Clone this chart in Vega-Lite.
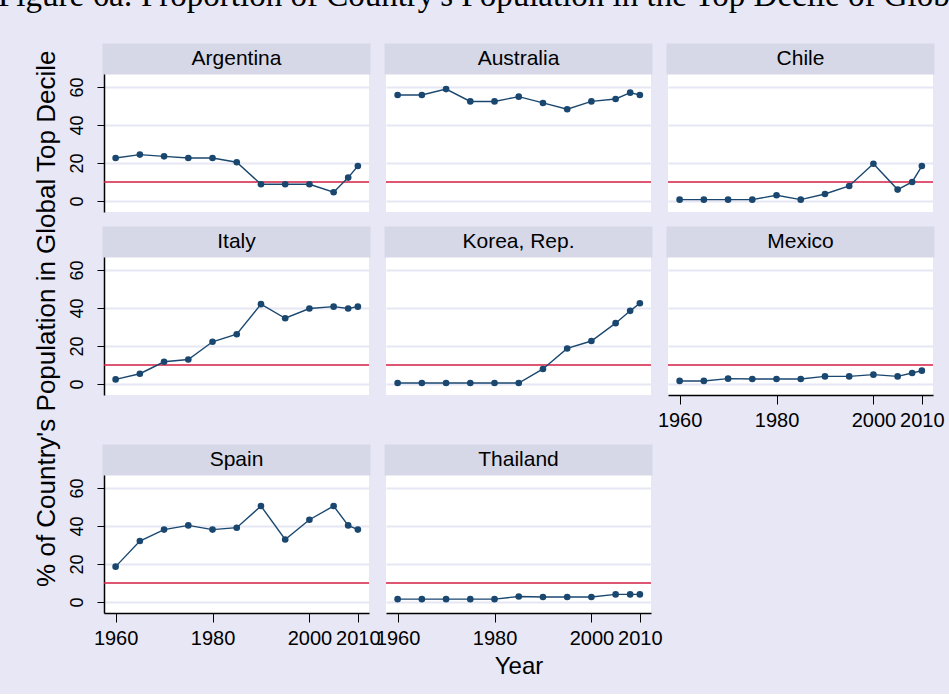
{
  "$schema": "https://vega.github.io/schema/vega-lite/v6.json",
  "background": "#E7E7F6",
  "padding": {"left": -3, "top": -21, "right": -26, "bottom": 16},
  "title": {"text": "Figure 6a: Proportion of Country's Population in the Top Decile of Global", "anchor": "start", "font": "Liberation Serif", "fontSize": 33, "fontWeight": "normal", "color": "#000000", "offset": 31, "dx": -36},
  "config": {"view": {"stroke": null, "fill": "#FFFFFF"}, "axis": {"labelFont": "Liberation Sans", "titleFont": "Liberation Sans"}},
  "datasets": {
    "d": [
      {"country": "Argentina", "year": 1960, "pct": 22.6}, {"country": "Argentina", "year": 1965, "pct": 24.4}, {"country": "Argentina", "year": 1970, "pct": 23.5}, {"country": "Argentina", "year": 1975, "pct": 22.6}, {"country": "Argentina", "year": 1980, "pct": 22.6}, {"country": "Argentina", "year": 1985, "pct": 20.4}, {"country": "Argentina", "year": 1990, "pct": 8.8}, {"country": "Argentina", "year": 1995, "pct": 8.8}, {"country": "Argentina", "year": 2000, "pct": 8.8}, {"country": "Argentina", "year": 2005, "pct": 4.6}, {"country": "Argentina", "year": 2008, "pct": 12.3}, {"country": "Argentina", "year": 2010, "pct": 18.4},
      {"country": "Australia", "year": 1960, "pct": 55.8}, {"country": "Australia", "year": 1965, "pct": 55.8}, {"country": "Australia", "year": 1970, "pct": 58.9}, {"country": "Australia", "year": 1975, "pct": 52.4}, {"country": "Australia", "year": 1980, "pct": 52.4}, {"country": "Australia", "year": 1985, "pct": 54.9}, {"country": "Australia", "year": 1990, "pct": 51.6}, {"country": "Australia", "year": 1995, "pct": 48.3}, {"country": "Australia", "year": 2000, "pct": 52.4}, {"country": "Australia", "year": 2005, "pct": 53.7}, {"country": "Australia", "year": 2008, "pct": 57.0}, {"country": "Australia", "year": 2010, "pct": 55.8},
      {"country": "Chile", "year": 1960, "pct": 0.7}, {"country": "Chile", "year": 1965, "pct": 0.7}, {"country": "Chile", "year": 1970, "pct": 0.7}, {"country": "Chile", "year": 1975, "pct": 0.7}, {"country": "Chile", "year": 1980, "pct": 3.0}, {"country": "Chile", "year": 1985, "pct": 0.7}, {"country": "Chile", "year": 1990, "pct": 3.7}, {"country": "Chile", "year": 1995, "pct": 7.9}, {"country": "Chile", "year": 2000, "pct": 19.6}, {"country": "Chile", "year": 2005, "pct": 6.0}, {"country": "Chile", "year": 2008, "pct": 10.0}, {"country": "Chile", "year": 2010, "pct": 18.4},
      {"country": "Italy", "year": 1960, "pct": 2.4}, {"country": "Italy", "year": 1965, "pct": 5.4}, {"country": "Italy", "year": 1970, "pct": 11.7}, {"country": "Italy", "year": 1975, "pct": 12.9}, {"country": "Italy", "year": 1980, "pct": 22.2}, {"country": "Italy", "year": 1985, "pct": 26.2}, {"country": "Italy", "year": 1990, "pct": 42.0}, {"country": "Italy", "year": 1995, "pct": 34.6}, {"country": "Italy", "year": 2000, "pct": 39.7}, {"country": "Italy", "year": 2005, "pct": 40.7}, {"country": "Italy", "year": 2008, "pct": 39.7}, {"country": "Italy", "year": 2010, "pct": 40.7},
      {"country": "Korea, Rep.", "year": 1960, "pct": 0.5}, {"country": "Korea, Rep.", "year": 1965, "pct": 0.5}, {"country": "Korea, Rep.", "year": 1970, "pct": 0.5}, {"country": "Korea, Rep.", "year": 1975, "pct": 0.5}, {"country": "Korea, Rep.", "year": 1980, "pct": 0.5}, {"country": "Korea, Rep.", "year": 1985, "pct": 0.5}, {"country": "Korea, Rep.", "year": 1990, "pct": 7.9}, {"country": "Korea, Rep.", "year": 1995, "pct": 18.7}, {"country": "Korea, Rep.", "year": 2000, "pct": 22.6}, {"country": "Korea, Rep.", "year": 2005, "pct": 32.0}, {"country": "Korea, Rep.", "year": 2008, "pct": 38.5}, {"country": "Korea, Rep.", "year": 2010, "pct": 42.5},
      {"country": "Mexico", "year": 1960, "pct": 1.6}, {"country": "Mexico", "year": 1965, "pct": 1.6}, {"country": "Mexico", "year": 1970, "pct": 2.8}, {"country": "Mexico", "year": 1975, "pct": 2.6}, {"country": "Mexico", "year": 1980, "pct": 2.6}, {"country": "Mexico", "year": 1985, "pct": 2.6}, {"country": "Mexico", "year": 1990, "pct": 4.0}, {"country": "Mexico", "year": 1995, "pct": 4.0}, {"country": "Mexico", "year": 2000, "pct": 4.9}, {"country": "Mexico", "year": 2005, "pct": 4.0}, {"country": "Mexico", "year": 2008, "pct": 5.8}, {"country": "Mexico", "year": 2010, "pct": 7.0},
      {"country": "Spain", "year": 1960, "pct": 18.6}, {"country": "Spain", "year": 1965, "pct": 32.1}, {"country": "Spain", "year": 1970, "pct": 38.1}, {"country": "Spain", "year": 1975, "pct": 40.3}, {"country": "Spain", "year": 1980, "pct": 38.1}, {"country": "Spain", "year": 1985, "pct": 39.1}, {"country": "Spain", "year": 1990, "pct": 50.5}, {"country": "Spain", "year": 1995, "pct": 32.9}, {"country": "Spain", "year": 2000, "pct": 43.3}, {"country": "Spain", "year": 2005, "pct": 50.5}, {"country": "Spain", "year": 2008, "pct": 40.3}, {"country": "Spain", "year": 2010, "pct": 38.1},
      {"country": "Thailand", "year": 1960, "pct": 1.5}, {"country": "Thailand", "year": 1965, "pct": 1.5}, {"country": "Thailand", "year": 1970, "pct": 1.5}, {"country": "Thailand", "year": 1975, "pct": 1.5}, {"country": "Thailand", "year": 1980, "pct": 1.5}, {"country": "Thailand", "year": 1985, "pct": 2.9}, {"country": "Thailand", "year": 1990, "pct": 2.6}, {"country": "Thailand", "year": 1995, "pct": 2.6}, {"country": "Thailand", "year": 2000, "pct": 2.6}, {"country": "Thailand", "year": 2005, "pct": 4.0}, {"country": "Thailand", "year": 2008, "pct": 4.0}, {"country": "Thailand", "year": 2010, "pct": 4.0}
    ]
  },
  "vconcat": [
    {
      "title": {"text": "% of Country's Population in Global Top Decile", "orient": "left", "anchor": "middle", "frame": "bounds", "font": "Liberation Sans", "fontSize": 26, "fontWeight": "normal", "color": "#000000", "offset": 8, "dx": 42},
      "columns": 3,
      "align": "each",
      "spacing": {"row": 14, "column": -6},
      "concat": [
        {
          "width": 265, "height": 167,
          "data": {"name": "d"},
          "transform": [{"filter": "datum.country === 'Argentina'"}],
          "layer": [
            {"transform": [{"aggregate": [{"op": "count", "as": "n"}], "groupby": ["country"]}], "mark": {"type": "rect", "color": "#D6D8E8", "stroke": "#D6D8E8", "strokeWidth": 3}, "encoding": {"x": {"value": 0}, "x2": {"value": "width"}, "y": {"datum": 82.1, "type": "quantitative", "scale": {"domain": [-5.8, 82.1], "nice": false, "zero": false}, "axis": {"values": [0, 20, 40, 60], "title": null, "grid": true, "gridColor": "#E6E6F4", "gridWidth": 2, "domain": true, "domainColor": "#000000", "domainWidth": 1.5, "ticks": true, "tickColor": "#000000", "tickSize": 7, "labelAngle": 270, "labelAlign": "center", "labelBaseline": "bottom", "labelFontSize": 18, "labelColor": "#000000", "labelPadding": 11}}, "y2": {"datum": 67.4}}},
            {"transform": [{"aggregate": [{"op": "count", "as": "n"}], "groupby": ["country"]}], "mark": {"type": "text", "font": "Liberation Sans", "fontSize": 21, "color": "#000000", "align": "center", "baseline": "middle"}, "encoding": {"x": {"datum": 1984.95, "type": "quantitative", "scale": {"domain": [1957.6, 2012.3], "nice": false, "zero": false}, "axis": null}, "y": {"datum": 74.75, "type": "quantitative", "axis": {"values": [0, 20, 40, 60], "title": null, "grid": true, "gridColor": "#E6E6F4", "gridWidth": 2, "domain": true, "domainColor": "#000000", "domainWidth": 1.5, "ticks": true, "tickColor": "#000000", "tickSize": 7, "labelAngle": 270, "labelAlign": "center", "labelBaseline": "bottom", "labelFontSize": 18, "labelColor": "#000000", "labelPadding": 11}}, "text": {"field": "country"}}},
            {"transform": [{"aggregate": [{"op": "count", "as": "n"}], "groupby": ["country"]}], "mark": {"type": "rule", "color": "#D41E45", "strokeWidth": 1.6}, "encoding": {"y": {"datum": 10, "type": "quantitative", "axis": {"values": [0, 20, 40, 60], "title": null, "grid": true, "gridColor": "#E6E6F4", "gridWidth": 2, "domain": true, "domainColor": "#000000", "domainWidth": 1.5, "ticks": true, "tickColor": "#000000", "tickSize": 7, "labelAngle": 270, "labelAlign": "center", "labelBaseline": "bottom", "labelFontSize": 18, "labelColor": "#000000", "labelPadding": 11}}}},
            {"mark": {"type": "line", "color": "#1A476F", "strokeWidth": 1.4, "point": {"filled": true, "size": 44, "color": "#1A476F"}}, "encoding": {
              "x": {"field": "year", "type": "quantitative", "scale": {"domain": [1957.6, 2012.3], "nice": false, "zero": false}, "axis": null},
              "y": {"field": "pct", "type": "quantitative", "scale": {"domain": [-5.8, 82.1], "nice": false, "zero": false}, "axis": {"values": [0, 20, 40, 60], "title": null, "grid": true, "gridColor": "#E6E6F4", "gridWidth": 2, "domain": true, "domainColor": "#000000", "domainWidth": 1.5, "ticks": true, "tickColor": "#000000", "tickSize": 7, "labelAngle": 270, "labelAlign": "center", "labelBaseline": "bottom", "labelFontSize": 18, "labelColor": "#000000", "labelPadding": 11}}}}
          ]
        },
        {
          "width": 265, "height": 167,
          "data": {"name": "d"},
          "transform": [{"filter": "datum.country === 'Australia'"}],
          "layer": [
            {"transform": [{"aggregate": [{"op": "count", "as": "n"}], "groupby": ["country"]}], "mark": {"type": "rect", "color": "#D6D8E8", "stroke": "#D6D8E8", "strokeWidth": 3}, "encoding": {"x": {"value": 0}, "x2": {"value": "width"}, "y": {"datum": 82.1, "type": "quantitative", "scale": {"domain": [-5.8, 82.1], "nice": false, "zero": false}, "axis": {"values": [0, 20, 40, 60], "title": null, "grid": true, "gridColor": "#E6E6F4", "gridWidth": 2, "domain": false, "ticks": false, "labels": false}}, "y2": {"datum": 67.4}}},
            {"transform": [{"aggregate": [{"op": "count", "as": "n"}], "groupby": ["country"]}], "mark": {"type": "text", "font": "Liberation Sans", "fontSize": 21, "color": "#000000", "align": "center", "baseline": "middle"}, "encoding": {"x": {"datum": 1984.95, "type": "quantitative", "scale": {"domain": [1957.6, 2012.3], "nice": false, "zero": false}, "axis": null}, "y": {"datum": 74.75, "type": "quantitative", "axis": {"values": [0, 20, 40, 60], "title": null, "grid": true, "gridColor": "#E6E6F4", "gridWidth": 2, "domain": false, "ticks": false, "labels": false}}, "text": {"field": "country"}}},
            {"transform": [{"aggregate": [{"op": "count", "as": "n"}], "groupby": ["country"]}], "mark": {"type": "rule", "color": "#D41E45", "strokeWidth": 1.6}, "encoding": {"y": {"datum": 10, "type": "quantitative", "axis": {"values": [0, 20, 40, 60], "title": null, "grid": true, "gridColor": "#E6E6F4", "gridWidth": 2, "domain": false, "ticks": false, "labels": false}}}},
            {"mark": {"type": "line", "color": "#1A476F", "strokeWidth": 1.4, "point": {"filled": true, "size": 44, "color": "#1A476F"}}, "encoding": {
              "x": {"field": "year", "type": "quantitative", "scale": {"domain": [1957.6, 2012.3], "nice": false, "zero": false}, "axis": null},
              "y": {"field": "pct", "type": "quantitative", "scale": {"domain": [-5.8, 82.1], "nice": false, "zero": false}, "axis": {"values": [0, 20, 40, 60], "title": null, "grid": true, "gridColor": "#E6E6F4", "gridWidth": 2, "domain": false, "ticks": false, "labels": false}}}}
          ]
        },
        {
          "width": 265, "height": 167,
          "data": {"name": "d"},
          "transform": [{"filter": "datum.country === 'Chile'"}],
          "layer": [
            {"transform": [{"aggregate": [{"op": "count", "as": "n"}], "groupby": ["country"]}], "mark": {"type": "rect", "color": "#D6D8E8", "stroke": "#D6D8E8", "strokeWidth": 3}, "encoding": {"x": {"value": 0}, "x2": {"value": "width"}, "y": {"datum": 82.1, "type": "quantitative", "scale": {"domain": [-5.8, 82.1], "nice": false, "zero": false}, "axis": {"values": [0, 20, 40, 60], "title": null, "grid": true, "gridColor": "#E6E6F4", "gridWidth": 2, "domain": false, "ticks": false, "labels": false}}, "y2": {"datum": 67.4}}},
            {"transform": [{"aggregate": [{"op": "count", "as": "n"}], "groupby": ["country"]}], "mark": {"type": "text", "font": "Liberation Sans", "fontSize": 21, "color": "#000000", "align": "center", "baseline": "middle"}, "encoding": {"x": {"datum": 1984.95, "type": "quantitative", "scale": {"domain": [1957.6, 2012.3], "nice": false, "zero": false}, "axis": null}, "y": {"datum": 74.75, "type": "quantitative", "axis": {"values": [0, 20, 40, 60], "title": null, "grid": true, "gridColor": "#E6E6F4", "gridWidth": 2, "domain": false, "ticks": false, "labels": false}}, "text": {"field": "country"}}},
            {"transform": [{"aggregate": [{"op": "count", "as": "n"}], "groupby": ["country"]}], "mark": {"type": "rule", "color": "#D41E45", "strokeWidth": 1.6}, "encoding": {"y": {"datum": 10, "type": "quantitative", "axis": {"values": [0, 20, 40, 60], "title": null, "grid": true, "gridColor": "#E6E6F4", "gridWidth": 2, "domain": false, "ticks": false, "labels": false}}}},
            {"mark": {"type": "line", "color": "#1A476F", "strokeWidth": 1.4, "point": {"filled": true, "size": 44, "color": "#1A476F"}}, "encoding": {
              "x": {"field": "year", "type": "quantitative", "scale": {"domain": [1957.6, 2012.3], "nice": false, "zero": false}, "axis": null},
              "y": {"field": "pct", "type": "quantitative", "scale": {"domain": [-5.8, 82.1], "nice": false, "zero": false}, "axis": {"values": [0, 20, 40, 60], "title": null, "grid": true, "gridColor": "#E6E6F4", "gridWidth": 2, "domain": false, "ticks": false, "labels": false}}}}
          ]
        },
        {
          "width": 265, "height": 167,
          "data": {"name": "d"},
          "transform": [{"filter": "datum.country === 'Italy'"}],
          "layer": [
            {"transform": [{"aggregate": [{"op": "count", "as": "n"}], "groupby": ["country"]}], "mark": {"type": "rect", "color": "#D6D8E8", "stroke": "#D6D8E8", "strokeWidth": 3}, "encoding": {"x": {"value": 0}, "x2": {"value": "width"}, "y": {"datum": 82.1, "type": "quantitative", "scale": {"domain": [-5.8, 82.1], "nice": false, "zero": false}, "axis": {"values": [0, 20, 40, 60], "title": null, "grid": true, "gridColor": "#E6E6F4", "gridWidth": 2, "domain": true, "domainColor": "#000000", "domainWidth": 1.5, "ticks": true, "tickColor": "#000000", "tickSize": 7, "labelAngle": 270, "labelAlign": "center", "labelBaseline": "bottom", "labelFontSize": 18, "labelColor": "#000000", "labelPadding": 11}}, "y2": {"datum": 67.4}}},
            {"transform": [{"aggregate": [{"op": "count", "as": "n"}], "groupby": ["country"]}], "mark": {"type": "text", "font": "Liberation Sans", "fontSize": 21, "color": "#000000", "align": "center", "baseline": "middle"}, "encoding": {"x": {"datum": 1984.95, "type": "quantitative", "scale": {"domain": [1957.6, 2012.3], "nice": false, "zero": false}, "axis": null}, "y": {"datum": 74.75, "type": "quantitative", "axis": {"values": [0, 20, 40, 60], "title": null, "grid": true, "gridColor": "#E6E6F4", "gridWidth": 2, "domain": true, "domainColor": "#000000", "domainWidth": 1.5, "ticks": true, "tickColor": "#000000", "tickSize": 7, "labelAngle": 270, "labelAlign": "center", "labelBaseline": "bottom", "labelFontSize": 18, "labelColor": "#000000", "labelPadding": 11}}, "text": {"field": "country"}}},
            {"transform": [{"aggregate": [{"op": "count", "as": "n"}], "groupby": ["country"]}], "mark": {"type": "rule", "color": "#D41E45", "strokeWidth": 1.6}, "encoding": {"y": {"datum": 10, "type": "quantitative", "axis": {"values": [0, 20, 40, 60], "title": null, "grid": true, "gridColor": "#E6E6F4", "gridWidth": 2, "domain": true, "domainColor": "#000000", "domainWidth": 1.5, "ticks": true, "tickColor": "#000000", "tickSize": 7, "labelAngle": 270, "labelAlign": "center", "labelBaseline": "bottom", "labelFontSize": 18, "labelColor": "#000000", "labelPadding": 11}}}},
            {"mark": {"type": "line", "color": "#1A476F", "strokeWidth": 1.4, "point": {"filled": true, "size": 44, "color": "#1A476F"}}, "encoding": {
              "x": {"field": "year", "type": "quantitative", "scale": {"domain": [1957.6, 2012.3], "nice": false, "zero": false}, "axis": null},
              "y": {"field": "pct", "type": "quantitative", "scale": {"domain": [-5.8, 82.1], "nice": false, "zero": false}, "axis": {"values": [0, 20, 40, 60], "title": null, "grid": true, "gridColor": "#E6E6F4", "gridWidth": 2, "domain": true, "domainColor": "#000000", "domainWidth": 1.5, "ticks": true, "tickColor": "#000000", "tickSize": 7, "labelAngle": 270, "labelAlign": "center", "labelBaseline": "bottom", "labelFontSize": 18, "labelColor": "#000000", "labelPadding": 11}}}}
          ]
        },
        {
          "width": 265, "height": 167,
          "data": {"name": "d"},
          "transform": [{"filter": "datum.country === 'Korea, Rep.'"}],
          "layer": [
            {"transform": [{"aggregate": [{"op": "count", "as": "n"}], "groupby": ["country"]}], "mark": {"type": "rect", "color": "#D6D8E8", "stroke": "#D6D8E8", "strokeWidth": 3}, "encoding": {"x": {"value": 0}, "x2": {"value": "width"}, "y": {"datum": 82.1, "type": "quantitative", "scale": {"domain": [-5.8, 82.1], "nice": false, "zero": false}, "axis": {"values": [0, 20, 40, 60], "title": null, "grid": true, "gridColor": "#E6E6F4", "gridWidth": 2, "domain": false, "ticks": false, "labels": false}}, "y2": {"datum": 67.4}}},
            {"transform": [{"aggregate": [{"op": "count", "as": "n"}], "groupby": ["country"]}], "mark": {"type": "text", "font": "Liberation Sans", "fontSize": 21, "color": "#000000", "align": "center", "baseline": "middle"}, "encoding": {"x": {"datum": 1984.95, "type": "quantitative", "scale": {"domain": [1957.6, 2012.3], "nice": false, "zero": false}, "axis": null}, "y": {"datum": 74.75, "type": "quantitative", "axis": {"values": [0, 20, 40, 60], "title": null, "grid": true, "gridColor": "#E6E6F4", "gridWidth": 2, "domain": false, "ticks": false, "labels": false}}, "text": {"field": "country"}}},
            {"transform": [{"aggregate": [{"op": "count", "as": "n"}], "groupby": ["country"]}], "mark": {"type": "rule", "color": "#D41E45", "strokeWidth": 1.6}, "encoding": {"y": {"datum": 10, "type": "quantitative", "axis": {"values": [0, 20, 40, 60], "title": null, "grid": true, "gridColor": "#E6E6F4", "gridWidth": 2, "domain": false, "ticks": false, "labels": false}}}},
            {"mark": {"type": "line", "color": "#1A476F", "strokeWidth": 1.4, "point": {"filled": true, "size": 44, "color": "#1A476F"}}, "encoding": {
              "x": {"field": "year", "type": "quantitative", "scale": {"domain": [1957.6, 2012.3], "nice": false, "zero": false}, "axis": null},
              "y": {"field": "pct", "type": "quantitative", "scale": {"domain": [-5.8, 82.1], "nice": false, "zero": false}, "axis": {"values": [0, 20, 40, 60], "title": null, "grid": true, "gridColor": "#E6E6F4", "gridWidth": 2, "domain": false, "ticks": false, "labels": false}}}}
          ]
        },
        {
          "width": 265, "height": 167,
          "data": {"name": "d"},
          "transform": [{"filter": "datum.country === 'Mexico'"}],
          "layer": [
            {"transform": [{"aggregate": [{"op": "count", "as": "n"}], "groupby": ["country"]}], "mark": {"type": "rect", "color": "#D6D8E8", "stroke": "#D6D8E8", "strokeWidth": 3}, "encoding": {"x": {"value": 0}, "x2": {"value": "width"}, "y": {"datum": 82.1, "type": "quantitative", "scale": {"domain": [-5.8, 82.1], "nice": false, "zero": false}, "axis": {"values": [0, 20, 40, 60], "title": null, "grid": true, "gridColor": "#E6E6F4", "gridWidth": 2, "domain": false, "ticks": false, "labels": false}}, "y2": {"datum": 67.4}}},
            {"transform": [{"aggregate": [{"op": "count", "as": "n"}], "groupby": ["country"]}], "mark": {"type": "text", "font": "Liberation Sans", "fontSize": 21, "color": "#000000", "align": "center", "baseline": "middle"}, "encoding": {"x": {"datum": 1984.95, "type": "quantitative", "scale": {"domain": [1957.6, 2012.3], "nice": false, "zero": false}, "axis": {"values": [1960, 1980, 2000, 2010], "format": "d", "title": null, "grid": false, "domain": true, "domainColor": "#000000", "domainWidth": 1.5, "ticks": true, "tickColor": "#000000", "tickSize": 9, "labelFontSize": 20, "labelColor": "#000000", "labelPadding": 6, "labelOverlap": false, "labelFlush": false}}, "y": {"datum": 74.75, "type": "quantitative", "axis": {"values": [0, 20, 40, 60], "title": null, "grid": true, "gridColor": "#E6E6F4", "gridWidth": 2, "domain": false, "ticks": false, "labels": false}}, "text": {"field": "country"}}},
            {"transform": [{"aggregate": [{"op": "count", "as": "n"}], "groupby": ["country"]}], "mark": {"type": "rule", "color": "#D41E45", "strokeWidth": 1.6}, "encoding": {"y": {"datum": 10, "type": "quantitative", "axis": {"values": [0, 20, 40, 60], "title": null, "grid": true, "gridColor": "#E6E6F4", "gridWidth": 2, "domain": false, "ticks": false, "labels": false}}}},
            {"mark": {"type": "line", "color": "#1A476F", "strokeWidth": 1.4, "point": {"filled": true, "size": 44, "color": "#1A476F"}}, "encoding": {
              "x": {"field": "year", "type": "quantitative", "scale": {"domain": [1957.6, 2012.3], "nice": false, "zero": false}, "axis": {"values": [1960, 1980, 2000, 2010], "format": "d", "title": null, "grid": false, "domain": true, "domainColor": "#000000", "domainWidth": 1.5, "ticks": true, "tickColor": "#000000", "tickSize": 9, "labelFontSize": 20, "labelColor": "#000000", "labelPadding": 6, "labelOverlap": false, "labelFlush": false}},
              "y": {"field": "pct", "type": "quantitative", "scale": {"domain": [-5.8, 82.1], "nice": false, "zero": false}, "axis": {"values": [0, 20, 40, 60], "title": null, "grid": true, "gridColor": "#E6E6F4", "gridWidth": 2, "domain": false, "ticks": false, "labels": false}}}}
          ]
        },
        {
          "width": 265, "height": 167,
          "data": {"name": "d"},
          "transform": [{"filter": "datum.country === 'Spain'"}],
          "layer": [
            {"transform": [{"aggregate": [{"op": "count", "as": "n"}], "groupby": ["country"]}], "mark": {"type": "rect", "color": "#D6D8E8", "stroke": "#D6D8E8", "strokeWidth": 3}, "encoding": {"x": {"value": 0}, "x2": {"value": "width"}, "y": {"datum": 82.1, "type": "quantitative", "scale": {"domain": [-5.8, 82.1], "nice": false, "zero": false}, "axis": {"values": [0, 20, 40, 60], "title": null, "grid": true, "gridColor": "#E6E6F4", "gridWidth": 2, "domain": true, "domainColor": "#000000", "domainWidth": 1.5, "ticks": true, "tickColor": "#000000", "tickSize": 7, "labelAngle": 270, "labelAlign": "center", "labelBaseline": "bottom", "labelFontSize": 18, "labelColor": "#000000", "labelPadding": 11}}, "y2": {"datum": 67.4}}},
            {"transform": [{"aggregate": [{"op": "count", "as": "n"}], "groupby": ["country"]}], "mark": {"type": "text", "font": "Liberation Sans", "fontSize": 21, "color": "#000000", "align": "center", "baseline": "middle"}, "encoding": {"x": {"datum": 1984.95, "type": "quantitative", "scale": {"domain": [1957.6, 2012.3], "nice": false, "zero": false}, "axis": {"values": [1960, 1980, 2000, 2010], "format": "d", "title": null, "grid": false, "domain": true, "domainColor": "#000000", "domainWidth": 1.5, "ticks": true, "tickColor": "#000000", "tickSize": 9, "labelFontSize": 20, "labelColor": "#000000", "labelPadding": 6, "labelOverlap": false, "labelFlush": false}}, "y": {"datum": 74.75, "type": "quantitative", "axis": {"values": [0, 20, 40, 60], "title": null, "grid": true, "gridColor": "#E6E6F4", "gridWidth": 2, "domain": true, "domainColor": "#000000", "domainWidth": 1.5, "ticks": true, "tickColor": "#000000", "tickSize": 7, "labelAngle": 270, "labelAlign": "center", "labelBaseline": "bottom", "labelFontSize": 18, "labelColor": "#000000", "labelPadding": 11}}, "text": {"field": "country"}}},
            {"transform": [{"aggregate": [{"op": "count", "as": "n"}], "groupby": ["country"]}], "mark": {"type": "rule", "color": "#D41E45", "strokeWidth": 1.6}, "encoding": {"y": {"datum": 10, "type": "quantitative", "axis": {"values": [0, 20, 40, 60], "title": null, "grid": true, "gridColor": "#E6E6F4", "gridWidth": 2, "domain": true, "domainColor": "#000000", "domainWidth": 1.5, "ticks": true, "tickColor": "#000000", "tickSize": 7, "labelAngle": 270, "labelAlign": "center", "labelBaseline": "bottom", "labelFontSize": 18, "labelColor": "#000000", "labelPadding": 11}}}},
            {"mark": {"type": "line", "color": "#1A476F", "strokeWidth": 1.4, "point": {"filled": true, "size": 44, "color": "#1A476F"}}, "encoding": {
              "x": {"field": "year", "type": "quantitative", "scale": {"domain": [1957.6, 2012.3], "nice": false, "zero": false}, "axis": {"values": [1960, 1980, 2000, 2010], "format": "d", "title": null, "grid": false, "domain": true, "domainColor": "#000000", "domainWidth": 1.5, "ticks": true, "tickColor": "#000000", "tickSize": 9, "labelFontSize": 20, "labelColor": "#000000", "labelPadding": 6, "labelOverlap": false, "labelFlush": false}},
              "y": {"field": "pct", "type": "quantitative", "scale": {"domain": [-5.8, 82.1], "nice": false, "zero": false}, "axis": {"values": [0, 20, 40, 60], "title": null, "grid": true, "gridColor": "#E6E6F4", "gridWidth": 2, "domain": true, "domainColor": "#000000", "domainWidth": 1.5, "ticks": true, "tickColor": "#000000", "tickSize": 7, "labelAngle": 270, "labelAlign": "center", "labelBaseline": "bottom", "labelFontSize": 18, "labelColor": "#000000", "labelPadding": 11}}}}
          ]
        },
        {
          "width": 265, "height": 167,
          "data": {"name": "d"},
          "transform": [{"filter": "datum.country === 'Thailand'"}],
          "layer": [
            {"transform": [{"aggregate": [{"op": "count", "as": "n"}], "groupby": ["country"]}], "mark": {"type": "rect", "color": "#D6D8E8", "stroke": "#D6D8E8", "strokeWidth": 3}, "encoding": {"x": {"value": 0}, "x2": {"value": "width"}, "y": {"datum": 82.1, "type": "quantitative", "scale": {"domain": [-5.8, 82.1], "nice": false, "zero": false}, "axis": {"values": [0, 20, 40, 60], "title": null, "grid": true, "gridColor": "#E6E6F4", "gridWidth": 2, "domain": false, "ticks": false, "labels": false}}, "y2": {"datum": 67.4}}},
            {"transform": [{"aggregate": [{"op": "count", "as": "n"}], "groupby": ["country"]}], "mark": {"type": "text", "font": "Liberation Sans", "fontSize": 21, "color": "#000000", "align": "center", "baseline": "middle"}, "encoding": {"x": {"datum": 1984.95, "type": "quantitative", "scale": {"domain": [1957.6, 2012.3], "nice": false, "zero": false}, "axis": {"values": [1960, 1980, 2000, 2010], "format": "d", "title": "Year", "titleFontSize": 24, "titleFontWeight": "normal", "titleColor": "#000000", "titlePadding": 6, "grid": false, "domain": true, "domainColor": "#000000", "domainWidth": 1.5, "ticks": true, "tickColor": "#000000", "tickSize": 9, "labelFontSize": 20, "labelColor": "#000000", "labelPadding": 6, "labelOverlap": false, "labelFlush": false}}, "y": {"datum": 74.75, "type": "quantitative", "axis": {"values": [0, 20, 40, 60], "title": null, "grid": true, "gridColor": "#E6E6F4", "gridWidth": 2, "domain": false, "ticks": false, "labels": false}}, "text": {"field": "country"}}},
            {"transform": [{"aggregate": [{"op": "count", "as": "n"}], "groupby": ["country"]}], "mark": {"type": "rule", "color": "#D41E45", "strokeWidth": 1.6}, "encoding": {"y": {"datum": 10, "type": "quantitative", "axis": {"values": [0, 20, 40, 60], "title": null, "grid": true, "gridColor": "#E6E6F4", "gridWidth": 2, "domain": false, "ticks": false, "labels": false}}}},
            {"mark": {"type": "line", "color": "#1A476F", "strokeWidth": 1.4, "point": {"filled": true, "size": 44, "color": "#1A476F"}}, "encoding": {
              "x": {"field": "year", "type": "quantitative", "scale": {"domain": [1957.6, 2012.3], "nice": false, "zero": false}, "axis": {"values": [1960, 1980, 2000, 2010], "format": "d", "title": "Year", "titleFontSize": 24, "titleFontWeight": "normal", "titleColor": "#000000", "titlePadding": 6, "grid": false, "domain": true, "domainColor": "#000000", "domainWidth": 1.5, "ticks": true, "tickColor": "#000000", "tickSize": 9, "labelFontSize": 20, "labelColor": "#000000", "labelPadding": 6, "labelOverlap": false, "labelFlush": false}},
              "y": {"field": "pct", "type": "quantitative", "scale": {"domain": [-5.8, 82.1], "nice": false, "zero": false}, "axis": {"values": [0, 20, 40, 60], "title": null, "grid": true, "gridColor": "#E6E6F4", "gridWidth": 2, "domain": false, "ticks": false, "labels": false}}}}
          ]
        }
      ]
    }
  ]
}
